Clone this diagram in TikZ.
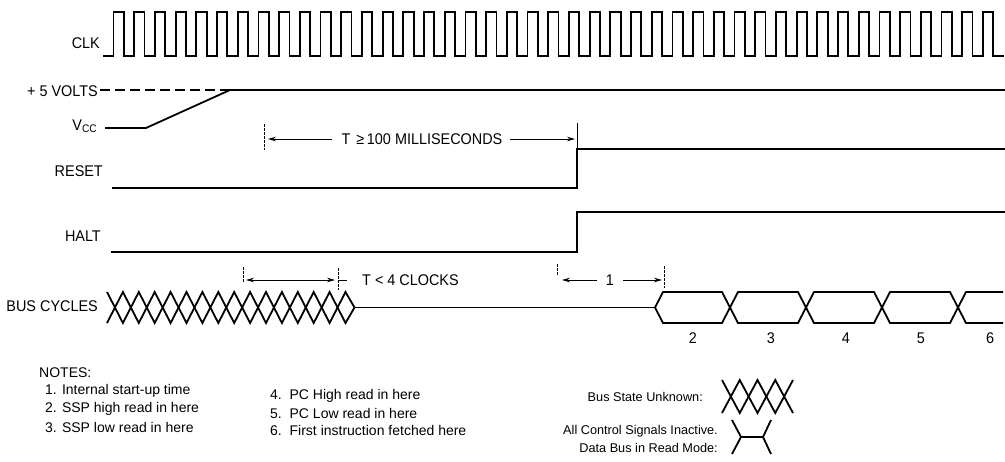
\documentclass[tikz,border=0pt]{standalone}
\usepackage{fontspec}
\setmainfont{Liberation Sans}
\newfontfamily\cf[FakeStretch=0.93]{Liberation Sans}
\usetikzlibrary{arrows.meta}
\begin{document}
\begin{tikzpicture}[x=1pt,y=-1pt,
  wave/.style={line width=1.8pt, line join=miter, line cap=butt},
  thinline/.style={line width=0.8pt},
  tickline/.style={line width=0.6pt, dash pattern=on 2.5pt off 1.5pt},
  dimline/.style={line width=0.8pt, -{Stealth[length=8pt,width=4.5pt]}},
  dimboth/.style={line width=0.8pt, {Stealth[length=8pt,width=4.5pt]}-{Stealth[length=8pt,width=4.5pt]}},
  sig/.style={font=\cf\fontsize{15.5}{17}\selectfont, anchor=east, inner sep=0pt},
  lab/.style={font=\cf\fontsize{15.5}{17}\selectfont, inner sep=0pt},
  note/.style={font=\fontsize{14}{16}\selectfont, anchor=west, inner sep=0pt},
  legend/.style={font=\fontsize{12.7}{17.5}\selectfont, anchor=east, inner sep=0pt, align=right}
]
\useasboundingbox (0,0) rectangle (1005,461);

% signal labels
\node[sig] (clk) at (100,43) {CLK};
\node[sig] (v5) at (98,91) {+ 5 VOLTS};
\node[sig] (vcc) at (97,126) {V\raisebox{-2.5pt}{\fontsize{11}{11}\selectfont CC}};
\node[sig] (reset) at (103,171) {RESET};
\node[sig] (halt) at (101,236) {HALT};
\node[sig] (bus) at (98,306) {BUS CYCLES};

% CLK
\draw[wave] (103,56) foreach \i in {0,...,42} {
  -- ({113.5+20.7*\i},56) -- ({113.5+20.7*\i},12) -- ({123.85+20.7*\i},12) -- ({123.85+20.7*\i},56) } -- (1004,56);

% +5 V and VCC
\draw[line width=1.3pt, dash pattern=on 10pt off 5pt] (100,90) -- (230,90);
\draw[wave] (105,128) -- (146,128) -- (230,90) -- (1005,90);

% RESET
\draw[wave] (112,188) -- (577,188) -- (577,149) -- (1005,149);
\draw[thinline] (577,149) -- (577,123);

% HALT
\draw[wave] (111,252) -- (577,252) -- (577,212) -- (1005,212);

% BUS CYCLES: unknown state
\draw[wave] (107,292) foreach \k in {1,...,15} { -- ({107+15.9*\k},{307.5-15.5*cos(180*\k)}) } -- (354.5,307.5);
\draw[wave] (107,323) foreach \k in {1,...,15} { -- ({107+15.9*\k},{307.5+15.5*cos(180*\k)}) } -- (354.5,307.5);
\draw[wave] (354.5,307.5) -- (655,307.5);
% bus cycles 2..5
\foreach \a/\b in {655/730, 730/806, 806/882, 882/958} {
  \draw[wave] (\a,307.5) -- (\a+8,292) -- (\b-8,292) -- (\b,307.5) -- (\b-8,323) -- (\a+8,323) -- cycle;
}
\draw[wave] (1003,292) -- (966,292) -- (958,307.5) -- (966,323) -- (1003,323);
\node[lab] (c2) at (693,338) {2};
\node[lab] (c3) at (771,338) {3};
\node[lab] (c4) at (846,338) {4};
\node[lab] (c5) at (921,338) {5};
\node[lab] (c6) at (990,338) {6};

% T >= 100 ms
\coordinate (a1l) at (268,139);
\coordinate (a1r) at (575,139);
\node[lab] (t100) at (422,139) {T\hspace{6pt}≥\,100 MILLISECONDS};
\draw[dimline] ([xshift=-9pt]t100.west) -- (a1l);
\draw[dimline] ([xshift=7pt]t100.east) -- (a1r);
\draw[tickline] (264,124) -- (264,150);

% T < 4 clocks
\coordinate (b1l) at (246,280);
\coordinate (b1r) at (335,280);
\draw[dimboth] (b1l) -- (b1r);
\draw[tickline] (243,267) -- (243,283);
\draw[tickline] (338,268) -- (338,290);
\node[lab, anchor=west] (t4) at (362,280) {T < 4 CLOCKS};
\draw[thinline] (338,280) -- (347,280);

% note 1 interval
\node[lab] (one) at (610,280) {1};
\draw[dimline] ([xshift=-9pt]one.west) -- (562,280);
\draw[dimline] ([xshift=9pt]one.east) -- (662,280);
\draw[tickline] (557,264) -- (557,276);
\draw[tickline] (664,266) -- (664,288);

% notes
\node[note] (notes) at (39,373) {NOTES:};
\node[note] (n1) at (45,391) {1. Internal start-up time};
\node[note] (n2) at (45,409) {2. SSP high read in here};
\node[note] (n3) at (45,427) {3. SSP low read in here};
\node[note] (n4) at (270,396) {4.\ \ PC High read in here};
\node[note] (n5) at (270,413) {5.\ \ PC Low read in here};
\node[note] (n6) at (270,430) {6.\ \ First instruction fetched here};

% legend
\node[legend] (lg1) at (703,397) {Bus State Unknown:};
\node[legend] (lg2) at (718,439) {All Control Signals Inactive.\\Data Bus in Read Mode:};
\draw[wave] (722,380) -- (739.75,413) -- (757.5,380) -- (775.25,413) -- (793,380);
\draw[wave] (722,413) -- (739.75,380) -- (757.5,413) -- (775.25,380) -- (793,413);
\draw[wave] (732,420) -- (741,437) -- (732,454);
\draw[wave] (741,437) -- (763,437);
\draw[wave] (771,420) -- (763,437) -- (771,454);
\end{tikzpicture}
\end{document}
